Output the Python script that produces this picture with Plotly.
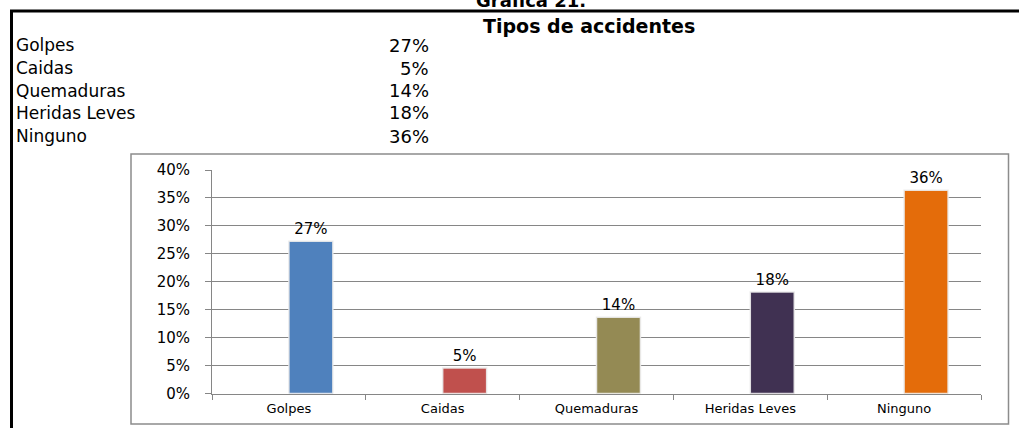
import plotly.graph_objects as go

# ---- data ----
categories = ["Golpes", "Caidas", "Quemaduras", "Heridas Leves", "Ninguno"]
values = [0.2727, 0.0455, 0.1364, 0.1818, 0.3636]
value_labels = ["27%", "5%", "14%", "18%", "36%"]
bar_colors = ["#4F81BD", "#C0504D", "#948A54", "#403152", "#E46C0A"]
y_ticks = [0, 0.05, 0.10, 0.15, 0.20, 0.25, 0.30, 0.35, 0.40]
y_tick_labels = ["0%", "5%", "10%", "15%", "20%", "25%", "30%", "35%", "40%"]
sheet_title = "Grafica 21."
table_title = "Tipos de accidentes"

W, H = 1019, 428

def px_x(x):
    return x / W

def px_y(y):
    return 1 - y / H

fig = go.Figure()
fig.add_trace(go.Bar(
    x=categories, y=values,
    width=0.2857, offset=0,
    marker=dict(color=bar_colors, line=dict(color="rgba(235,235,235,0.9)", width=1.5)),
    text=value_labels, textposition="outside",
    textfont=dict(family="DejaVu Sans", size=15, color="#000000"),
    cliponaxis=False, showlegend=False, hoverinfo="skip",
))

grid = "#868686"
fig.update_layout(
    width=W, height=H, autosize=False,
    margin=dict(l=0, r=0, t=0, b=0, pad=0, autoexpand=False),
    paper_bgcolor="white", plot_bgcolor="white",
    xaxis=dict(
        domain=[px_x(212), px_x(981)],
        range=[-0.5, 4.5],
        automargin=False,
        showline=True, linecolor=grid, linewidth=1,
        ticks="outside", tickson="boundaries", ticklen=5, tickcolor=grid,
        showgrid=False,
        ticklabelstandoff=3,
        tickfont=dict(family="DejaVu Sans", size=13, color="#000000"),
    ),
    yaxis=dict(
        domain=[px_y(393.5), px_y(170)],
        range=[0, 0.4],
        automargin=False,
        tickvals=y_ticks, ticktext=y_tick_labels,
        showline=True, linecolor=grid, linewidth=1,
        ticks="outside", ticklen=6, tickcolor=grid,
        showgrid=True, gridcolor=grid, gridwidth=1,
        zeroline=False,
        ticklabelstandoff=12,
        tickfont=dict(family="DejaVu Sans", size=15, color="#000000"),
    ),
)

shapes = [
    # chart frame
    dict(type="rect", xref="paper", yref="paper",
         x0=px_x(131), x1=px_x(1008.5), y0=px_y(424), y1=px_y(154),
         line=dict(color="#8C8C8C", width=1.5), layer="below"),
    # thick black cell borders
    dict(type="line", xref="paper", yref="paper",
         x0=px_x(10), x1=1, y0=px_y(11), y1=px_y(11),
         line=dict(color="#000000", width=3)),
    dict(type="line", xref="paper", yref="paper",
         x0=px_x(11.5), x1=px_x(11.5), y0=px_y(10), y1=0,
         line=dict(color="#000000", width=3)),
]
fig.update_layout(shapes=shapes)

annotations = [
    dict(text="<b>" + sheet_title + "</b>", x=px_x(531), y=px_y(13), xref="paper", yref="paper",
         xanchor="center", yanchor="bottom", showarrow=False,
         font=dict(family="DejaVu Sans", size=18, color="#000000")),
    dict(text="<b>" + table_title + "</b>", x=px_x(589), y=px_y(26), xref="paper", yref="paper",
         xanchor="center", yanchor="middle", showarrow=False,
         font=dict(family="DejaVu Sans", size=19, color="#000000")),
]
row_y = [45, 68, 90.5, 113, 136]
for cat, lab, ry in zip(categories, value_labels, row_y):
    annotations.append(dict(text=cat, x=px_x(14), y=px_y(ry), xref="paper", yref="paper",
                            xanchor="left", yanchor="middle", showarrow=False,
                            font=dict(family="DejaVu Sans", size=17, color="#000000")))
    annotations.append(dict(text=lab, x=px_x(431), y=px_y(ry), xref="paper", yref="paper",
                            xanchor="right", yanchor="middle", showarrow=False,
                            font=dict(family="DejaVu Sans", size=18, color="#000000")))
fig.update_layout(annotations=annotations)

post = (
    "document.documentElement.style.margin='0';"
    "document.documentElement.style.overflow='hidden';"
    "document.body.style.margin='0';"
    "document.body.style.overflow='hidden';"
    "var d=document.getElementById('{plot_id}');"
    "d.style.position='fixed';d.style.top='0px';d.style.left='0px';"
)
fig.write_html("out.html", config={"displayModeBar": False}, post_script=post)
